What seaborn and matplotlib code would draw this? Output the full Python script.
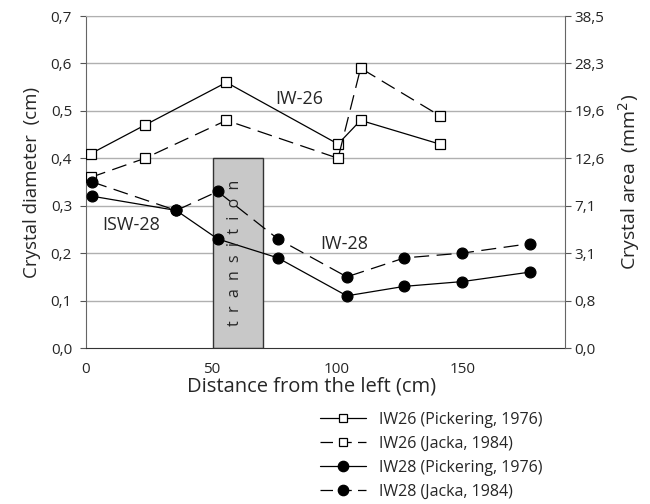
import numpy as np
import pandas as pd
import matplotlib
matplotlib.use("Agg")
import matplotlib.pyplot as plt
import seaborn as sns
from matplotlib.lines import Line2D
from matplotlib.patches import Rectangle

# ---- data ----
iw26_pick_x = [2, 23.5, 56, 100.5, 109.5, 141]
iw26_pick_y = [0.41, 0.47, 0.56, 0.43, 0.48, 0.43]
iw26_jacka_x = [2, 23.5, 56, 100.5, 109.5, 141]
iw26_jacka_y = [0.36, 0.40, 0.48, 0.40, 0.59, 0.49]
iw28_pick_x = [2.5, 36, 52.5, 76.5, 104, 127, 150, 177]
iw28_pick_y = [0.32, 0.29, 0.23, 0.19, 0.11, 0.13, 0.14, 0.16]
iw28_jacka_x = [2.5, 36, 52.5, 76.5, 104, 127, 150, 177]
iw28_jacka_y = [0.35, 0.29, 0.33, 0.23, 0.15, 0.19, 0.20, 0.22]
left_ticks = [0.0, 0.1, 0.2, 0.3, 0.4, 0.5, 0.6, 0.7]
left_labels = ["0,0", "0,1", "0,2", "0,3", "0,4", "0,5", "0,6", "0,7"]
right_labels = ["0,0", "0,8", "3,1", "7,1", "12,6", "19,6", "28,3", "38,5"]
x_ticks = [0, 50, 100, 150]
transition_x = [50.5, 70.5]
transition_top = 0.4
legend_labels = ["IW26 (Pickering, 1976)", "IW26 (Jacka, 1984)",
                 "IW28 (Pickering, 1976)", "IW28 (Jacka, 1984)"]

sns.set_style("white")
plt.rcParams['font.family'] = ['Open Sans', 'DejaVu Sans']

fig = plt.figure(figsize=(6.5, 5.04), dpi=100)
ax = fig.add_axes([86/650, 1-348/504, (565-86)/650, (348-16)/504])

dash_ls = (0, (12, 6))
series = [
    (iw26_pick_x, iw26_pick_y, 's', 'white', '-'),
    (iw26_jacka_x, iw26_jacka_y, 's', 'white', dash_ls),
    (iw28_pick_x, iw28_pick_y, 'o', 'black', '-'),
    (iw28_jacka_x, iw28_jacka_y, 'o', 'black', dash_ls),
]

# grid
for t in left_ticks[1:]:
    ax.axhline(t, color='#b0b0b0', lw=1.0, zorder=0)

ax.add_patch(Rectangle((transition_x[0], 0), transition_x[1]-transition_x[0], transition_top,
                       facecolor='#c8c8c8', edgecolor='#333333', lw=1.0, zorder=1))

handles = []
for (xs, ys, m, fc, ls) in series:
    df = pd.DataFrame({"x": xs, "y": ys})
    sns.lineplot(data=df, x="x", y="y", ax=ax, sort=False, estimator=None, zorder=3,
                 color='black', lw=0.9, linestyle=ls, marker=m,
                 markersize=6.8 if m == 's' else 7.8,
                 markerfacecolor=fc, markeredgecolor='black', markeredgewidth=0.9)
    h = Line2D([], [], color='black', lw=0.9, marker=m, markersize=6 if m == 's' else 7.5,
               markerfacecolor=fc, markeredgecolor='black', markeredgewidth=0.9,
               linestyle='-' if ls == '-' else (0, (10, 5)))
    handles.append(h)

ax.set_xlim(0, 191)
ax.set_ylim(0, 0.7)
ax.set_xticks(x_ticks)
ax.set_xticklabels([str(v) for v in x_ticks], fontsize=11)
ax.set_yticks(left_ticks)
ax.set_yticklabels(left_labels, fontsize=11)
ax.set_xlabel("Distance from the left (cm)", fontsize=14.5, labelpad=0)
ax.xaxis.label.set_x((312-86)/479)
ax.set_ylabel("Crystal diameter  (cm)", fontsize=13.5, labelpad=7)
ax.tick_params(axis='both', direction='out', length=4, width=0.8, color='#555555', pad=6)

ax.spines['top'].set_color('#b0b0b0')
ax.spines['left'].set_color('#666666')
ax.spines['bottom'].set_color('#333333')
ax.spines['right'].set_visible(False)

ax2 = ax.twinx()
ax2.set_ylim(0, 0.7)
ax2.set_yticks(left_ticks)
ax2.set_yticklabels(right_labels, fontsize=11)
ax2.set_ylabel("Crystal area  (mm$^2$)", fontsize=14, labelpad=8)
ax2.tick_params(axis='y', direction='out', length=4, width=0.8, color='#555555', pad=3)
for s in ['top', 'left', 'bottom']:
    ax2.spines[s].set_visible(False)
ax2.spines['right'].set_color('#666666')

ax.text(85, 0.525, "IW-26", fontsize=13, ha='center', va='center', zorder=4)
ax.text(18, 0.26, "ISW-28", fontsize=13, ha='center', va='center', zorder=4)
ax.text(103, 0.22, "IW-28", fontsize=13, ha='center', va='center', zorder=4)
ax.text(sum(transition_x)/2 - 1, 0.2, "  ".join("transition"), rotation=90,
        fontsize=11.5, ha='center', va='center', zorder=4)

fig.legend(handles, legend_labels, loc='upper left', bbox_to_anchor=(320/650, 1-412/504),
           frameon=False, fontsize=11.5, handlelength=2.9, labelspacing=0.5,
           handletextpad=0.8, borderpad=0, borderaxespad=0)

fig.savefig("out.png", dpi=100)
